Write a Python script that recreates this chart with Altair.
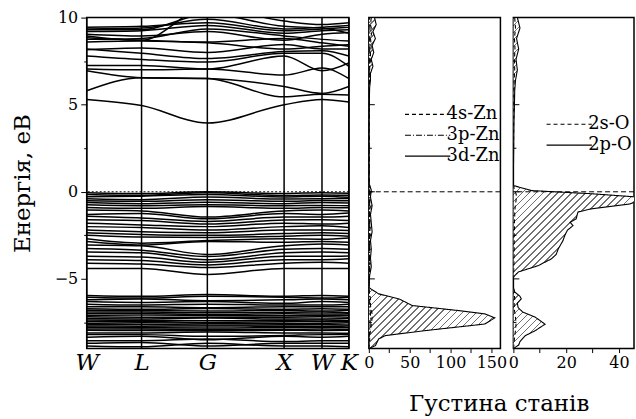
import math
import altair as alt
import pandas as pd

# ---------------- data ----------------
kpos = [0, 55, 121, 198, 236, 263]
klabels = ["W", "L", "G", "X", "W", "K"]

cond_bands = [
    [5.30, 4.95, 3.95, 5.00, 5.30, 5.15],
    [5.80, 6.55, 6.50, 5.45, 5.60, 5.55],
    [6.95, 6.55, 6.50, 6.05, 5.65, 6.05],
    [7.05, 7.00, 7.05, 6.70, 7.10, 6.50],
    [7.25, 7.25, 7.05, 7.80, 6.95, 7.40],
    [7.80, 7.60, 7.45, 7.95, 7.95, 7.20],
    [8.20, 7.95, 7.65, 8.05, 8.10, 7.80],
    [8.15, 8.25, 8.00, 8.45, 8.20, 8.20],
    [8.60, 8.65, 8.55, 8.20, 8.35, 8.45],
    [8.85, 8.70, 8.60, 8.80, 8.55, 8.35],
    [9.05, 8.95, 9.20, 8.70, 9.05, 9.15],
    [9.20, 9.25, 9.55, 9.10, 9.25, 9.30],
    [9.35, 9.40, 9.90, 9.35, 9.45, 9.55],
    [9.30, 9.30, 10.20, 9.50, 9.40, 9.10],
    [8.95, 8.70, 10.60, 9.80, 9.60, 9.70],
    [8.75, 8.80, 9.35, 8.95, 8.75, 8.65],
    [9.45, 9.50, 9.70, 9.25, 9.35, 9.45],
]

val_bands = [
    [-0.05, -0.10, 0.00, -0.10, -0.05, -0.08],
    [-0.15, -0.20, -0.05, -0.22, -0.18, -0.20],
    [-0.28, -0.25, -0.15, -0.30, -0.25, -0.32],
    [-0.40, -0.45, -0.30, -0.42, -0.40, -0.38],
    [-0.52, -0.55, -0.45, -0.55, -0.50, -0.52],
    [-0.62, -0.68, -0.60, -0.68, -0.62, -0.65],
    [-0.75, -0.80, -0.75, -0.80, -0.78, -0.80],
    [-0.90, -0.95, -0.85, -0.95, -0.90, -0.92],
    [-1.05, -1.10, -1.45, -1.10, -1.05, -1.10],
    [-1.30, -1.25, -1.55, -1.25, -1.30, -1.22],
    [-1.40, -1.50, -1.70, -1.45, -1.45, -1.40],
    [-1.60, -1.65, -1.85, -1.62, -1.60, -1.65],
    [-1.80, -1.90, -2.00, -1.80, -1.85, -1.80],
    [-2.00, -2.05, -2.20, -2.00, -1.95, -2.05],
    [-2.20, -2.30, -2.35, -2.20, -2.20, -2.22],
    [-2.35, -2.45, -2.50, -2.40, -2.35, -2.40],
    [-2.50, -2.60, -2.62, -2.55, -2.50, -2.55],
    [-2.70, -2.95, -2.80, -2.70, -2.72, -2.65],
    [-2.85, -3.05, -2.85, -2.90, -2.85, -2.90],
    [-3.05, -3.10, -3.60, -3.10, -3.00, -3.05],
    [-3.25, -3.35, -3.72, -3.30, -3.25, -3.30],
    [-3.45, -3.50, -3.90, -3.50, -3.45, -3.50],
    [-3.70, -3.75, -4.05, -3.70, -3.70, -3.68],
    [-3.90, -3.95, -4.20, -3.90, -3.90, -3.85],
    [-4.10, -4.15, -4.35, -4.10, -4.05, -4.10],
    [-4.40, -4.40, -4.75, -4.40, -4.40, -4.40],
]

d_bands = [
    [-5.95, -6.00, -5.90, -6.00, -5.95, -6.00],
    [-6.05, -6.10, -6.00, -6.05, -6.10, -6.05],
    [-6.20, -6.15, -6.25, -6.20, -6.15, -6.20],
    [-6.30, -6.35, -6.30, -6.40, -6.30, -6.35],
    [-6.45, -6.50, -6.45, -6.50, -6.50, -6.45],
    [-6.60, -6.60, -6.65, -6.60, -6.60, -6.60],
    [-6.72, -6.75, -6.70, -6.75, -6.72, -6.75],
    [-6.80, -6.82, -6.85, -6.80, -6.85, -6.80],
    [-6.90, -6.90, -6.95, -6.92, -6.90, -6.95],
    [-7.00, -6.98, -7.05, -7.00, -7.02, -7.00],
    [-7.10, -7.08, -7.10, -7.12, -7.10, -7.08],
    [-7.18, -7.20, -7.20, -7.20, -7.18, -7.20],
    [-7.28, -7.30, -7.25, -7.30, -7.30, -7.28],
    [-7.36, -7.38, -7.40, -7.38, -7.36, -7.40],
    [-7.45, -7.45, -7.50, -7.46, -7.45, -7.45],
    [-7.55, -7.52, -7.55, -7.56, -7.55, -7.52],
    [-7.62, -7.62, -7.65, -7.64, -7.62, -7.65],
    [-7.70, -7.72, -7.70, -7.72, -7.72, -7.70],
    [-7.78, -7.80, -7.82, -7.80, -7.78, -7.80],
    [-7.88, -7.88, -7.90, -7.90, -7.88, -7.90],
    [-7.95, -7.97, -7.98, -7.95, -7.96, -7.95],
    [-8.10, -8.10, -8.05, -8.10, -8.10, -8.12],
    [-8.20, -8.20, -8.30, -8.25, -8.20, -8.20],
    [-8.35, -8.30, -8.50, -8.30, -8.35, -8.30],
    [-8.55, -8.55, -8.45, -8.60, -8.55, -8.55],
    [-8.70, -8.65, -8.85, -8.70, -8.70, -8.70],
    [-8.85, -8.90, -8.70, -8.85, -8.85, -8.90],
]

fermi_level = [0.0]
e_ticks_major = [-5, 0, 5, 10]
e_ticks_minor = [-7.5, -2.5, 2.5, 7.5]

# Zn DOS
zn_E = [10.0, 9.6, 9.2, 8.8, 8.4, 8.0, 7.6, 7.2, 6.8, 6.4,
        6.0, 5.0, 4.0, 0.5, 0.1, -0.3, -0.8, -1.3, -1.8, -2.3,
        -2.8, -3.3, -3.8, -4.3, -4.8, -5.5, -5.86, -6.15, -6.53, -6.82,
        -7.01, -7.24, -7.59, -7.97, -8.26, -8.45, -8.83, -9.0]
zn_3d = [7, 9, 5, 8, 4, 6, 3, 5, 2, 2,
         1, 0.5, 0, 0, 3, 2, 4, 2, 3, 4,
         2, 3, 2, 3, 1, 0, 12, 37, 53, 110,
         142, 154, 142, 69, 20, 12, 8, 0]
zn_4s = [3, 2, 4, 2, 3, 2, 2, 1, 1, 1,
         0.5, 0.5, 0.3, 0.5, 2, 1, 1.5, 1, 1, 1.5,
         1, 1, 1, 1.5, 0.5, 0, 1, 2, 2, 3,
         4, 4, 3, 2, 1, 1, 0.5, 0]
zn_3p = [1, 1, 1.5, 1, 1, 1, 0.5, 0.5, 0.5, 0.5,
         0.3, 0.2, 0.1, 0.2, 1, 0.8, 1, 0.8, 1, 1,
         0.8, 1, 0.8, 1, 0.3, 0, 0.5, 1, 1, 1.5,
         2, 2, 1.5, 1, 0.5, 0.5, 0.3, 0]
zn_series = ["4s-Zn", "3p-Zn", "3d-Zn"]

# O DOS
o_E = [10.0, 9.4, 8.8, 8.2, 7.6, 7.0, 6.4, 5.8, 5.0, 4.0,
       1.0, 0.36, 0.07, -0.11, -0.29, -0.5, -0.7, -0.98, -1.16, -1.3,
       -1.55, -1.75, -1.94, -2.2, -2.5, -2.8, -3.28, -3.6, -3.85, -4.24,
       -4.6, -4.9, -5.5, -5.75, -6.0, -6.15, -6.4, -6.65, -6.9, -7.2,
       -7.6, -7.97, -8.26, -8.6, -8.8, -9.0]
o_2p = [1.5, 2.5, 1.2, 2.0, 1.0, 1.5, 0.8, 0.5, 0.4, 0.2,
        0, 0, 6.8, 29.4, 46, 48, 44, 29.5, 24.5, 24.2,
        23.8, 21.5, 22.6, 20.5, 19.5, 18.8, 17, 16.2, 14.4, 9.4,
        1.9, 0, 0, 0.5, 2.5, 3, 1.5, 1.8, 3.5, 8.3,
        12, 8.3, 4.5, 2.5, 2, 0]
o_2s = [0.5, 0.8, 0.4, 0.6, 0.4, 0.5, 0.3, 0.2, 0.2, 0.1,
        0, 0, 0.5, 1.0, 1.2, 1.0, 0.8, 0.6, 0.5, 0.5,
        0.5, 0.4, 0.4, 0.4, 0.3, 0.3, 0.3, 0.3, 0.2, 0.2,
        0.1, 0, 0, 0.2, 0.4, 0.5, 0.3, 0.3, 0.5, 0.8,
        1.0, 0.8, 0.5, 0.3, 0.2, 0]
o_series = ["2s-O", "2p-O"]

# ---------------- layout / style ----------------
FONT = "DejaVu Serif"
H = 332
W1, W2, W3 = 263, 132, 121
E_DOM = [-9, 10]
ZN_MAX = 161
O_MAX = 45.7

yscale = alt.Scale(domain=E_DOM, nice=False, zero=False)


def hatch(w, h, spacing=5.0, line=1.1, color="#707070"):
    total = w + h
    c = total / (w * w + h * h)
    period = spacing * math.sqrt(2)
    lw = line * math.sqrt(2)
    stops = []
    i = 0
    while i * period < total:
        a = i * period / total
        b = min((i * period + lw) / total, 1.0)
        nxt = min((i + 1) * period / total, 1.0)
        stops += [alt.GradientStop(color=color, offset=a),
                  alt.GradientStop(color=color, offset=b),
                  alt.GradientStop(color="white", offset=b),
                  alt.GradientStop(color="white", offset=nxt)]
        i += 1
    return alt.LinearGradient(gradient="linear", stops=stops,
                              x1=0, y1=0, x2=c * w, y2=c * h)


# ---------------- band structure ----------------
rows = []
bid = 0
for group in (cond_bands, val_bands, d_bands):
    for band in group:
        for k, e in zip(kpos, band):
            rows.append({"band": bid, "k": k, "E": e})
        bid += 1
bands_df = pd.DataFrame(rows)

label_expr = "''"
for k, lab in reversed(list(zip(kpos, klabels))):
    label_expr = f"datum.value == {k} ? '{lab}' : ({label_expr})"

kscale = alt.Scale(domain=[kpos[0], kpos[-1]], nice=False, zero=False)

band_lines = alt.Chart(bands_df).mark_line(
    color="black", strokeWidth=1.5, interpolate="monotone", clip=True
).encode(
    x=alt.X("k:Q", scale=kscale, axis=alt.Axis(
        values=kpos, labelExpr=label_expr, ticks=False, title=None, grid=False,
        domain=False, labelFont=FONT, labelFontStyle="italic", labelFontSize=23,
        labelColor="black", labelPadding=3, labelFlush=False, labelOverlap=False)),
    y=alt.Y("E:Q", scale=yscale, axis=alt.Axis(
        values=e_ticks_minor + e_ticks_major, grid=False, domain=False,
        labelExpr="datum.value % 5 === 0 ? datum.label : ''",
        tickSize={"condition": {"test": "datum.value % 5 === 0", "value": 6}, "value": 3},
        tickColor="black", labelColor="black",
        labelPadding=3, labelFontSize=16, labelFont=FONT,
        title="Енергія, eB", titleFontSize=23, titleFont=FONT,
        titleFontWeight="normal", titleColor="black",
        titlePadding=20, labelOverlap=False)),
    detail="band:N",
)

sym_df = pd.DataFrame({"k": kpos})
sym_lines = alt.Chart(sym_df).mark_rule(color="black", strokeWidth=1.5).encode(
    x=alt.X("k:Q", scale=kscale))

fermi_df = pd.DataFrame({"E": fermi_level})
fermi_dot = alt.Chart(fermi_df).mark_rule(
    color="black", strokeWidth=1, strokeDash=[2, 2]).encode(
    y=alt.Y("E:Q", scale=yscale))

band_panel = alt.layer(band_lines, sym_lines, fermi_dot).properties(width=W1, height=H)

# ---------------- DOS panels ----------------
major_df = pd.DataFrame({"E": e_ticks_major})
minor_df = pd.DataFrame({"E": e_ticks_minor})


def inner_ticks():
    a = alt.Chart(major_df).mark_rule(color="black", strokeWidth=1).encode(
        y=alt.Y("E:Q", scale=yscale, axis=None), x=alt.value(0), x2=alt.value(6))
    b = alt.Chart(minor_df).mark_rule(color="black", strokeWidth=1).encode(
        y=alt.Y("E:Q", scale=yscale, axis=None), x=alt.value(0), x2=alt.value(3))
    return a, b


def dos_panel(E, series_vals, names, dashes, area_name, xmax, width,
              tick_vals, label_step, lx, ly):
    long_rows = []
    for name, vals in zip(names, series_vals):
        for e, v in zip(E, vals):
            long_rows.append({"series": name, "E": e, "value": v})
    df = pd.DataFrame(long_rows)
    area_vals = series_vals[names.index(area_name)]
    area_df = pd.DataFrame({"E": E, "value": area_vals})
    px_w = max(area_vals) * width / xmax
    px_h = (max(E) - min(E)) * H / (E_DOM[1] - E_DOM[0])
    xscale = alt.Scale(domain=[0, xmax], nice=False, zero=False)
    xaxis = alt.Axis(values=tick_vals,
                     labelExpr=f"datum.value % {label_step} === 0 ? datum.label : ''",
                     tickSize=4, labelPadding=2, title=None, labelFlush=False,
                     grid=False, domain=False, tickColor="black", labelColor="black",
                     labelOverlap=False, labelFont=FONT, labelFontSize=16)
    area = alt.Chart(area_df).mark_area(
        orient="horizontal", fill=hatch(px_w, px_h), clip=True
    ).encode(
        x=alt.X("value:Q", scale=xscale, axis=xaxis),
        y=alt.Y("E:Q", scale=yscale, axis=None),
    )
    lines = alt.Chart(df).mark_line(
        color="black", strokeWidth=1.1, orient="horizontal", clip=True
    ).encode(
        x=alt.X("value:Q", scale=xscale, axis=xaxis),
        y=alt.Y("E:Q", scale=yscale, axis=None),
        order=alt.Order("E:Q"),
        strokeDash=alt.StrokeDash("series:N", scale=alt.Scale(domain=names, range=dashes),
                                  legend=alt.Legend(
                                      orient="none", legendX=lx, legendY=ly, title=None,
                                      symbolType="M-2,0H2", symbolSize=516,
                                      symbolStrokeWidth=1.2, symbolStrokeColor="black",
                                      labelFont=FONT, labelFontSize=18, labelColor="black",
                                      labelOffset=7, rowPadding=-1.5, padding=0)),
    )
    fermi = alt.Chart(fermi_df).mark_rule(
        color="black", strokeWidth=1, strokeDash=[5, 3]).encode(
        y=alt.Y("E:Q", scale=yscale, axis=None))
    t1, t2 = inner_ticks()
    return alt.layer(area, lines, fermi, t1, t2).properties(width=width, height=H)


zn_panel = dos_panel(zn_E, [zn_4s, zn_3p, zn_3d], zn_series,
                     [[4, 3], [6, 2, 1, 2], [1, 0]], "3d-Zn",
                     ZN_MAX, W2, [0, 25, 50, 75, 100, 125, 150], 50, 47, 85)
o_panel = dos_panel(o_E, [o_2s, o_2p], o_series,
                    [[4, 3], [1, 0]], "2p-O",
                    O_MAX, W3, [0, 10, 20, 30, 40], 20, 44, 95)

dos = alt.hconcat(zn_panel, o_panel, spacing=13, bounds="flush",
                  title=alt.TitleParams("Густина станів", orient="bottom", anchor="middle",
                                        font=FONT, fontSize=23, fontWeight="normal",
                                        color="black", offset=22)
                  ).resolve_scale(x="independent", y="independent", strokeDash="independent"
                  ).resolve_legend(strokeDash="independent")

chart = alt.hconcat(band_panel, dos, spacing=20, bounds="flush").resolve_scale(
    x="independent", y="independent", strokeDash="independent"
).resolve_legend(strokeDash="independent").properties(
    padding={"left": 10, "top": 8, "right": 0, "bottom": 0}
).configure_view(stroke="black", strokeWidth=1.5
).configure_axis(grid=False, domain=False, labelColor="black", tickColor="black",
                 titleColor="black", titleFontWeight="normal")

chart.save("out.html", embed_options={"renderer": "svg", "actions": False})
